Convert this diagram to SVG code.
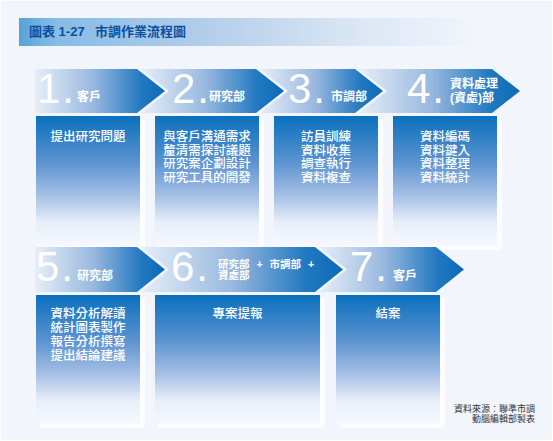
<svg xmlns="http://www.w3.org/2000/svg" width="553" height="441" viewBox="0 0 553 441">
<defs>
<linearGradient id="gArrow" x1="0" y1="0" x2="1" y2="0">
<stop offset="0" stop-color="#e6eef8"/>
<stop offset="0.45" stop-color="#98b8df"/>
<stop offset="0.82" stop-color="#2178c0"/>
<stop offset="1" stop-color="#0b6ab7"/>
</linearGradient>
<linearGradient id="gBox" x1="0" y1="0" x2="0" y2="1">
<stop offset="0" stop-color="#0a70bd"/>
<stop offset="0.35" stop-color="#5a92d0"/>
<stop offset="0.62" stop-color="#a8c1e6"/>
<stop offset="0.82" stop-color="#e8eff9"/>
<stop offset="1" stop-color="#f6f8fd"/>
</linearGradient>
<linearGradient id="gTitle" x1="0" y1="0" x2="1" y2="0">
<stop offset="0" stop-color="#55a3da"/>
<stop offset="0.08" stop-color="#86bce6"/>
<stop offset="0.4" stop-color="#b2cdea"/>
<stop offset="0.75" stop-color="#dbe7f5"/>
<stop offset="1" stop-color="#f1f5fb"/>
</linearGradient>
<style>
.num{font-family:"Liberation Sans",Arial,sans-serif;font-size:42px;fill:#ffffff;letter-spacing:2px}
.lbl{font-family:"Liberation Sans","Noto Sans CJK TC",sans-serif;font-weight:bold;font-size:12px;fill:#ffffff}
.lbl2{font-family:"Liberation Sans","Noto Sans CJK TC",sans-serif;font-weight:bold;font-size:10.5px;fill:#ffffff;word-spacing:4px}
.txt{font-family:"Liberation Sans","Noto Sans CJK TC",sans-serif;font-weight:500;font-size:12.5px;fill:#ffffff;text-anchor:middle}
.arrow{fill:url(#gArrow)}
.box{fill:url(#gBox)}
.shadow{fill:#ffffff;opacity:0.75}
.title{font-family:"Liberation Sans","Noto Sans CJK TC",sans-serif;font-weight:bold;font-size:13px;fill:#0b4f9e}
.note{font-family:"Liberation Sans","Noto Sans CJK TC",sans-serif;font-size:9px;fill:#333333;text-anchor:end}
</style>
</defs>
<rect x="0" y="0" width="553" height="441" fill="#f2f5fb"/>
<rect x="0.5" y="0.5" width="552" height="440" fill="none" stroke="#ffffff" stroke-width="1"/>

<g id="title">
<rect x="19" y="18" width="455" height="28" fill="url(#gTitle)"/>
<text class="title" x="29" y="36">圖表 1-27</text>
<text class="title" x="95" y="36">市調作業流程圖</text>
</g>

<g id="connectors"></g>

<g id="step1">
<path class="arrow" d="M35,69 H137 L165,91 L137,113 H35 Z"/>
<text class="num" x="37" y="103">1.</text>
<text class="lbl" x="77" y="101">客戶</text>
<rect class="shadow" x="39" y="119" width="106" height="131" rx="2"/>
<rect class="box" x="36" y="116" width="104" height="130"/>
<text class="txt" x="88" y="141">提出研究問題</text>
</g>

<g id="step2">
<path class="arrow" d="M141,69 H256 L284,91 L256,113 H141 L169,91 Z"/>
<text class="num" x="172" y="103">2.</text>
<text class="lbl" x="209" y="101">研究部</text>
<rect class="shadow" x="158" y="119" width="106" height="131" rx="2"/>
<rect class="box" x="155" y="116" width="104" height="130"/>
<text class="txt" x="207" y="141">與客戶溝通需求</text>
<text class="txt" x="207" y="154.7">釐清需探討議題</text>
<text class="txt" x="207" y="168.4">研究案企劃設計</text>
<text class="txt" x="207" y="182.1">研究工具的開發</text>
</g>

<g id="step3">
<path class="arrow" d="M260,69 H355 L383,91 L355,113 H260 L288,91 Z"/>
<text class="num" x="288" y="103">3.</text>
<text class="lbl" x="331" y="101">市調部</text>
<rect class="shadow" x="277" y="119" width="106" height="131" rx="2"/>
<rect class="box" x="274" y="116" width="104" height="130"/>
<text class="txt" x="326" y="141">訪員訓練</text>
<text class="txt" x="326" y="154.7">資料收集</text>
<text class="txt" x="326" y="168.4">調查執行</text>
<text class="txt" x="326" y="182.1">資料複查</text>
</g>

<g id="step4">
<path class="arrow" d="M359,69 H492 L520,91 L492,113 H359 L387,91 Z"/>
<text class="num" x="407" y="103">4.</text>
<text class="lbl" x="450" y="88">資料處理</text>
<text class="lbl" x="450" y="102">(資處)部</text>
<rect class="shadow" x="396" y="119" width="106" height="131" rx="2"/>
<rect class="box" x="393" y="116" width="104" height="130"/>
<text class="txt" x="445" y="141">資料編碼</text>
<text class="txt" x="445" y="154.7">資料鍵入</text>
<text class="txt" x="445" y="168.4">資料整理</text>
<text class="txt" x="445" y="182.1">資料統計</text>
</g>

<g id="step5">
<path class="arrow" d="M35,247 H137 L165,269.5 L137,292 H35 Z"/>
<text class="num" x="36" y="281">5.</text>
<text class="lbl" x="77" y="280">研究部</text>
<rect class="shadow" x="39" y="298" width="106" height="130" rx="2"/>
<rect class="box" x="36" y="295" width="104" height="129"/>
<text class="txt" x="88" y="318">資料分析解讀</text>
<text class="txt" x="88" y="332">統計圖表製作</text>
<text class="txt" x="88" y="346">報告分析撰寫</text>
<text class="txt" x="88" y="360">提出結論建議</text>
</g>

<g id="step6">
<path class="arrow" d="M141,247 H315 L343,269.5 L315,292 H141 L169,269.5 Z"/>
<text class="num" x="171" y="281">6.</text>
<text class="lbl2" x="218" y="268">研究部 + 市調部 +</text>
<text class="lbl2" x="218" y="278.5">資處部</text>
<rect class="shadow" x="158" y="298" width="167" height="130" rx="2"/>
<rect class="box" x="155" y="295" width="165" height="129"/>
<text class="txt" x="237.5" y="318">專案提報</text>
</g>

<g id="step7">
<path class="arrow" d="M319,247 H436 L464,269.5 L436,292 H319 L347,269.5 Z"/>
<text class="num" x="350" y="281">7.</text>
<text class="lbl" x="393" y="280">客戶</text>
<rect class="shadow" x="339" y="298" width="106" height="130" rx="2"/>
<rect class="box" x="336" y="295" width="104" height="129"/>
<text class="txt" x="388" y="318">結案</text>
</g>

<g id="source">
<text class="note" x="535" y="412">資料來源：聯準市調</text>
<text class="note" x="535" y="422">動腦編輯部製表</text>
</g>
</svg>
